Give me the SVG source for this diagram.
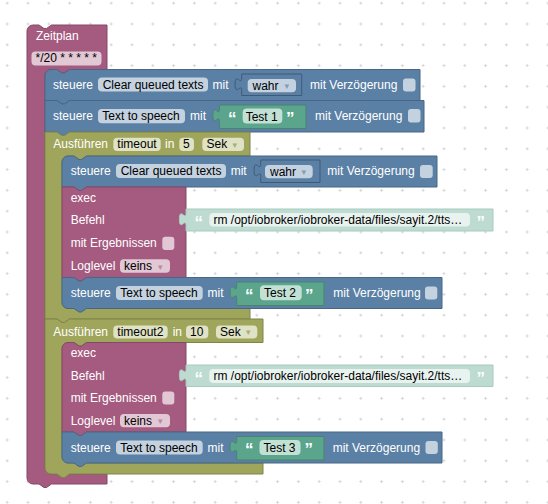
<svg xmlns="http://www.w3.org/2000/svg" width="548" height="504" viewBox="0 0 548 504">
<defs>
<pattern id="grid" x="5.7" y="1.7" width="20.8" height="20.8" patternUnits="userSpaceOnUse">
<path d="M0,1.5H3M1.5,0V3" stroke="#d6d6d6" stroke-width="1" fill="none"/>
</pattern>
<style>
.t{font-family:"Liberation Sans",Arial,sans-serif;font-size:12px}
.w{fill:#fff}
.k{fill:#000}
.q{font-family:"Liberation Sans",Arial,sans-serif;font-weight:bold;font-size:17px;fill:#fff}
.a{font-family:"DejaVu Sans",sans-serif;font-size:9px}
.bb{fill:#5b80a5;stroke:#496684;stroke-width:1}
.mb{fill:#a55b80;stroke:#844966;stroke-width:1}
.ob{fill:#9fa55b;stroke:#7f844a;stroke-width:1}
.gb{fill:#5ba58c;stroke:#498470;stroke-width:1}
.pb{fill:#bddbd1;stroke:#a8cbbf;stroke-width:1}
.wb{fill:#5b80a5;stroke:#3f5a75;stroke-width:1}
.fb{fill:#c4d2e0}
.fm{fill:#e2c7d4}
.fo{fill:#dfe2c5}
.fg{fill:#c3e0d4}
.fp{fill:#e8f3ef}
.ab{fill:#7f9cba}
.am{fill:#b98aa2}
.ao{fill:#a9ad78}
</style>
</defs>
<rect width="548" height="504" fill="#fff"/>
<rect width="548" height="504" fill="url(#grid)"/>

<g id="zeitplan">
<path class="mb" d="M27,31 A6,6 0 0 1 33,25 H39 l5,3.5 h2.5 l5,-3.5 H107 V69.5 H69.5 l-5,3.5 h-2.5 l-5,-3.5 H51 A6,6 0 0 0 45,75.5 V468 A6,6 0 0 0 51,474 H107 V484 H51.5 l-5,3.5 h-2.5 l-5,-3.5 H33 A6,6 0 0 1 27,478 Z"/>
<text class="t w" x="36" y="40.3">Zeitplan</text>
<rect class="fm" x="31.5" y="51.5" width="70" height="14" rx="4"/>
<text class="t k" x="35.5" y="62.3">*/20 * * * * *</text>
</g>

<g id="steuere1">
<path class="bb" d="M45,75.5 A6,6 0 0 1 51,69.5 H57 l5,3.5 h2.5 l5,-3.5 H420 V100.5 H69.5 l-5,3.5 h-2.5 l-5,-3.5 H45 Z"/>
<text class="t w" x="53" y="89">steuere</text>
<rect class="fb" x="98" y="77.5" width="110" height="14" rx="4"/>
<text class="t k" x="102.7" y="89">Clear queued texts</text>
<text class="t w" x="212.5" y="89">mit</text>
<text class="t w" x="310" y="89">mit Verzögerung</text>
<rect class="fb" x="403" y="78.5" width="12.5" height="13" rx="3"/>
</g>
<g id="wahr1">
<path class="wb" d="M241.7,74 H301.7 V95.5 H241.7 V90.5 C241.7,82.24 235.1,97.1 235.1,84.3 C235.1,71.5 241.7,86.3 241.7,78.1 Z"/>
<rect class="fb" x="247.7" y="79" width="48.3" height="13.3" rx="4"/>
<text class="t k" x="252.5" y="89.5">wahr</text>
<text class="a ab" x="284.5" y="89">▾</text>
</g>

<g id="steuere2">
<path class="bb" d="M45,100.5 H57 l5,3.5 h2.5 l5,-3.5 H424 V132 H69.5 l-5,3.5 h-2.5 l-5,-3.5 H45 Z"/>
<text class="t w" x="53" y="120.3">steuere</text>
<rect class="fb" x="98" y="109" width="87" height="14.3" rx="4"/>
<text class="t k" x="102.3" y="120.3">Text to speech</text>
<text class="t w" x="190" y="120.3">mit</text>
<text class="t w" x="315" y="120.3">mit Verzögerung</text>
<rect class="fb" x="408" y="109" width="12.5" height="13.5" rx="3"/>
</g>
<g id="text1">
<path class="gb" d="M219.5,105 H306 V128.5 H219.5 V121.5 C219.5,113.24 212.9,128.1 212.9,115.3 C212.9,102.5 219.5,117.3 219.5,109.1 Z"/>
<text class="q" x="228" y="124">“</text>
<rect class="fg" x="242.7" y="108.5" width="39.6" height="15" rx="4"/>
<text class="t k" x="245.7" y="120.5">Test 1</text>
<text class="q" x="286" y="124">”</text>
</g>

<g id="timeout1">
<path class="ob" d="M45,132 H57 l5,3.5 h2.5 l5,-3.5 H250 V156 H86.5 l-5,3.5 h-2.5 l-5,-3.5 H68 A6,6 0 0 0 62,162 V302.5 A6,6 0 0 0 68,308.5 H250 V319 H69.5 l-5,3.5 h-2.5 l-5,-3.5 H45 Z"/>
<text class="t w" x="53.3" y="148.3">Ausführen</text>
<rect class="fo" x="113.3" y="137.7" width="47.4" height="13.3" rx="4"/>
<text class="t k" x="117.3" y="148.3">timeout</text>
<text class="t w" x="165" y="148.3">in</text>
<rect class="fo" x="179.3" y="137.7" width="14.7" height="13.3" rx="4"/>
<text class="t k" x="183" y="148.3">5</text>
<rect class="fo" x="202.3" y="137.7" width="41.7" height="13.3" rx="4"/>
<text class="t k" x="206.5" y="148.3">Sek</text>
<text class="a ao" x="232.5" y="148">▾</text>
</g>

<g id="steuere3">
<path class="bb" d="M62,162 A6,6 0 0 1 68,156 H74 l5,3.5 h2.5 l5,-3.5 H437 V187 H86.5 l-5,3.5 h-2.5 l-5,-3.5 H62 Z"/>
<text class="t w" x="70.7" y="175.3">steuere</text>
<rect class="fb" x="116" y="164" width="110" height="14" rx="4"/>
<text class="t k" x="120.7" y="175.3">Clear queued texts</text>
<text class="t w" x="230.7" y="175.3">mit</text>
<text class="t w" x="327.3" y="175.3">mit Verzögerung</text>
<rect class="fb" x="420" y="165" width="12.7" height="13" rx="3"/>
</g>
<g id="wahr2">
<path class="wb" d="M260.7,160 H320 V182.5 H260.7 V176.5 C260.7,168.24 254.1,183.1 254.1,170.3 C254.1,157.5 260.7,172.3 260.7,164.1 Z"/>
<rect class="fb" x="265" y="165" width="47.7" height="13.3" rx="4"/>
<text class="t k" x="270" y="175.5">wahr</text>
<text class="a ab" x="301.5" y="175">▾</text>
</g>

<g id="exec1">
<path class="mb" d="M62,187 H74 l5,3.5 h2.5 l5,-3.5 H186 V277.5 H86.5 l-5,3.5 h-2.5 l-5,-3.5 H62 Z"/>
<text class="t w" x="70.7" y="202">exec</text>
<text class="t w" x="70.7" y="224.3">Befehl</text>
<text class="t w" x="70.7" y="247">mit Ergebnissen</text>
<rect class="fm" x="162.3" y="236.7" width="12" height="13.3" rx="3"/>
<text class="t w" x="70.7" y="270">Loglevel</text>
<rect class="fm" x="120" y="259.3" width="50" height="13.4" rx="4"/>
<text class="t k" x="124" y="270">keins</text>
<text class="a am" x="158" y="269.5">▾</text>
</g>
<g id="befehl1">
<path class="pb" d="M186,209 H493 V231 H186 V225.5 C186,217.24 179.4,232.1 179.4,219.3 C179.4,206.5 186,221.3 186,213.1 Z"/>
<text class="q" x="194.5" y="227.5">“</text>
<rect class="fp" x="209.3" y="213" width="260.7" height="13.5" rx="4"/>
<text class="t k" x="213.5" y="224">rm /opt/iobroker/iobroker-data/files/sayit.2/tts…</text>
<text class="q" x="476.5" y="227.5">”</text>
</g>

<g id="steuere4">
<path class="bb" d="M62,277.5 H74 l5,3.5 h2.5 l5,-3.5 H442 V308.5 H86.5 l-5,3.5 h-2.5 l-5,-3.5 H68 A6,6 0 0 1 62,302.5 Z"/>
<text class="t w" x="70.7" y="297">steuere</text>
<rect class="fb" x="116" y="286" width="86.7" height="14" rx="4"/>
<text class="t k" x="120.3" y="297">Text to speech</text>
<text class="t w" x="207.5" y="297">mit</text>
<text class="t w" x="333.3" y="297">mit Verzögerung</text>
<rect class="fb" x="425" y="286.5" width="12.3" height="13" rx="3"/>
</g>
<g id="text2">
<path class="gb" d="M236.7,282 H324 V305.5 H236.7 V298.5 C236.7,290.24 230.1,305.1 230.1,292.3 C230.1,279.5 236.7,294.3 236.7,286.1 Z"/>
<text class="q" x="245" y="300.8">“</text>
<rect class="fg" x="260" y="285.3" width="41.7" height="15" rx="4"/>
<text class="t k" x="264" y="297.3">Test 2</text>
<text class="q" x="305" y="300.8">”</text>
</g>

<g id="timeout2">
<path class="ob" d="M45,319 H57 l5,3.5 h2.5 l5,-3.5 H263 V342.5 H86.5 l-5,3.5 h-2.5 l-5,-3.5 H68 A6,6 0 0 0 62,348.5 V457 A6,6 0 0 0 68,463 H263 V474 H69.5 l-5,3.5 h-2.5 l-5,-3.5 H51 A6,6 0 0 1 45,468 Z"/>
<text class="t w" x="53.3" y="335.5">Ausführen</text>
<rect class="fo" x="113.3" y="325.5" width="54.4" height="13" rx="4"/>
<text class="t k" x="117.3" y="335.5">timeout2</text>
<text class="t w" x="172.7" y="335.5">in</text>
<rect class="fo" x="186" y="325.5" width="22.3" height="13" rx="4"/>
<text class="t k" x="190" y="335.5">10</text>
<rect class="fo" x="216" y="325.5" width="41.3" height="13" rx="4"/>
<text class="t k" x="220" y="335.5">Sek</text>
<text class="a ao" x="246" y="335.2">▾</text>
</g>

<g id="exec2">
<path class="mb" d="M62,348.5 A6,6 0 0 1 68,342.5 H74 l5,3.5 h2.5 l5,-3.5 H186 V432 H86.5 l-5,3.5 h-2.5 l-5,-3.5 H62 Z"/>
<text class="t w" x="70.7" y="357">exec</text>
<text class="t w" x="70.7" y="379.5">Befehl</text>
<text class="t w" x="70.7" y="402">mit Ergebnissen</text>
<rect class="fm" x="162.3" y="391.5" width="12" height="13" rx="3"/>
<text class="t w" x="70.7" y="424.5">Loglevel</text>
<rect class="fm" x="120" y="414" width="50" height="13.3" rx="4"/>
<text class="t k" x="124" y="424.5">keins</text>
<text class="a am" x="158" y="424">▾</text>
</g>
<g id="befehl2">
<path class="pb" d="M186,365 H493 V386.5 H186 V381.5 C186,373.24 179.4,388.1 179.4,375.3 C179.4,362.5 186,377.3 186,369.1 Z"/>
<text class="q" x="194.5" y="383.5">“</text>
<rect class="fp" x="209.3" y="369" width="260.7" height="14" rx="4"/>
<text class="t k" x="213.5" y="380.3">rm /opt/iobroker/iobroker-data/files/sayit.2/tts…</text>
<text class="q" x="476.5" y="383.5">”</text>
</g>

<g id="steuere5">
<path class="bb" d="M62,432 H74 l5,3.5 h2.5 l5,-3.5 H442 V463 H86.5 l-5,3.5 h-2.5 l-5,-3.5 H68 A6,6 0 0 1 62,457 Z"/>
<text class="t w" x="70.7" y="451.5">steuere</text>
<rect class="fb" x="116" y="440.5" width="86.7" height="14" rx="4"/>
<text class="t k" x="120.3" y="451.5">Text to speech</text>
<text class="t w" x="207.5" y="451.5">mit</text>
<text class="t w" x="332.7" y="451.5">mit Verzögerung</text>
<rect class="fb" x="425.5" y="441" width="12.3" height="13" rx="3"/>
</g>
<g id="text3">
<path class="gb" d="M236.7,436.5 H324 V460 H236.7 V453 C236.7,444.74 230.1,459.6 230.1,446.8 C230.1,434 236.7,448.8 236.7,440.6 Z"/>
<text class="q" x="245" y="455.3">“</text>
<rect class="fg" x="259.5" y="440" width="41" height="15" rx="4"/>
<text class="t k" x="263.5" y="451.8">Test 3</text>
<text class="q" x="304.5" y="455.3">”</text>
</g>

<g id="connectors"></g>
</svg>
